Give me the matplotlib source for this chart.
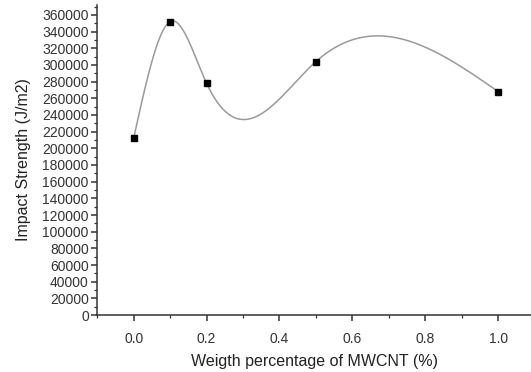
import numpy as np
import matplotlib
matplotlib.use("Agg")
from matplotlib import pyplot
from matplotlib.ticker import MultipleLocator

# measured points
wt_pct = [0.0, 0.1, 0.2, 0.5, 1.0]
impact = [212000, 352000, 278000, 304000, 268000]


def natural_spline(x, y, n=400):
    x = np.asarray(x, float)
    y = np.asarray(y, float)
    k = len(x)
    h = np.diff(x)
    A = np.zeros((k, k))
    b = np.zeros(k)
    A[0, 0] = A[-1, -1] = 1.0
    for i in range(1, k - 1):
        A[i, i - 1] = h[i - 1]
        A[i, i] = 2 * (h[i - 1] + h[i])
        A[i, i + 1] = h[i]
        b[i] = 6 * ((y[i + 1] - y[i]) / h[i] - (y[i] - y[i - 1]) / h[i - 1])
    M = np.linalg.solve(A, b)
    xs = np.linspace(x[0], x[-1], n)
    idx = np.clip(np.searchsorted(x, xs) - 1, 0, k - 2)
    x0, x1 = x[idx], x[idx + 1]
    hh = x1 - x0
    ys = (M[idx] * (x1 - xs) ** 3 / (6 * hh) + M[idx + 1] * (xs - x0) ** 3 / (6 * hh)
          + (y[idx] / hh - M[idx] * hh / 6) * (x1 - xs)
          + (y[idx + 1] / hh - M[idx + 1] * hh / 6) * (xs - x0))
    return xs, ys


pyplot.rcParams['font.family'] = ['Liberation Sans', 'DejaVu Sans']

fig = pyplot.figure(figsize=(5.31, 3.72), dpi=100)
ax = fig.add_axes([0.183, 0.153, 0.817, 0.834])

xs, ys = natural_spline(wt_pct, impact)
ax.plot(xs, ys, color='#9a9a9a', lw=1.1, zorder=2)
ax.plot(wt_pct, impact, 's', color='black', ms=4.8, zorder=3)

ax.set_xlim(-0.1, 1.09)
ax.set_ylim(0, 372000)
ax.xaxis.set_major_locator(MultipleLocator(0.2))
ax.xaxis.set_minor_locator(MultipleLocator(0.1))
ax.yaxis.set_major_locator(MultipleLocator(20000))
ax.yaxis.set_minor_locator(MultipleLocator(10000))
ax.xaxis.set_major_formatter(matplotlib.ticker.FormatStrFormatter('%.1f'))

for s in ('top', 'right'):
    ax.spines[s].set_visible(False)
for s in ('left', 'bottom'):
    ax.spines[s].set_color('#333333')
    ax.spines[s].set_linewidth(1.1)

ax.tick_params(which='major', direction='out', length=4, width=1.1, labelsize=10, colors='#333333', pad=2)
ax.tick_params(which='minor', direction='out', length=2, width=0.9, colors='#333333')
ax.tick_params(axis='x', pad=8)

ax.set_xlabel('Weigth percentage of MWCNT (%)', fontsize=11.5, color='#222222', labelpad=6)
ax.set_ylabel('Impact Strength (J/m2)', fontsize=11.5, color='#222222', labelpad=8)

pyplot.savefig('out.png', dpi=100)
pyplot.close()
